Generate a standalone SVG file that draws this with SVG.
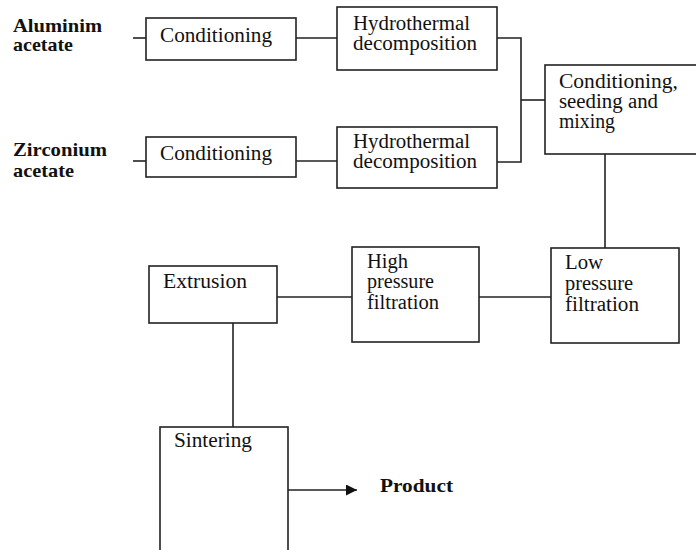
<svg xmlns="http://www.w3.org/2000/svg" width="696" height="550" viewBox="0 0 696 550">
<defs>
<style>
.box{fill:#fff;stroke:#222;stroke-width:1.6}
.t{font-family:"Liberation Serif","Times New Roman",serif;font-size:20px;fill:#111}
.b{font-family:"Liberation Serif","Times New Roman",serif;font-size:19px;font-weight:bold;fill:#111}
.c{fill:none;stroke:#222;stroke-width:1.6}
</style>
<marker id="arr" viewBox="0 0 10 10" refX="10" refY="5" markerWidth="12" markerHeight="11" markerUnits="userSpaceOnUse" orient="auto"><path d="M0,0 L10,5 L0,10 z" fill="#111"/></marker>
</defs>
<rect width="696" height="550" fill="#fff"/>
<g id="labels">
<text class="b" x="13" y="32" textLength="89" lengthAdjust="spacingAndGlyphs">Aluminim</text>
<text class="b" x="13" y="51" textLength="60" lengthAdjust="spacingAndGlyphs">acetate</text>
<text class="b" x="13" y="156" textLength="94" lengthAdjust="spacingAndGlyphs">Zirconium</text>
<text class="b" x="13" y="177" textLength="61" lengthAdjust="spacingAndGlyphs">acetate</text>
<text class="b" x="380" y="492" textLength="73" lengthAdjust="spacingAndGlyphs">Product</text>
</g>
<g id="connectors">
<path class="c" d="M133,38 H147"/>
<path class="c" d="M296,38 H337"/>
<path class="c" d="M133,161 H147"/>
<path class="c" d="M296,161 H337"/>
<path class="c" d="M497,38 H521 V162 H497"/>
<path class="c" d="M521,100 H545"/>
<path class="c" d="M605,154 V248"/>
<path class="c" d="M479,297 H551"/>
<path class="c" d="M277,297 H352"/>
<path class="c" d="M233,323 V427"/>
<path class="c" d="M288,490 H357" marker-end="url(#arr)"/>
</g>
<g id="cond1"><rect class="box" x="146" y="18" width="150" height="42"/><text class="t" x="160" y="42" textLength="112" lengthAdjust="spacingAndGlyphs">Conditioning</text></g>
<g id="cond2"><rect class="box" x="146" y="137" width="150" height="40"/><text class="t" x="160" y="160" textLength="112" lengthAdjust="spacingAndGlyphs">Conditioning</text></g>
<g id="hydro1"><rect class="box" x="337" y="7" width="160" height="63"/><text class="t" x="353" y="30" textLength="117" lengthAdjust="spacingAndGlyphs">Hydrothermal</text><text class="t" x="353" y="50" textLength="124" lengthAdjust="spacingAndGlyphs">decomposition</text></g>
<g id="hydro2"><rect class="box" x="337" y="127" width="160" height="61"/><text class="t" x="353" y="148" textLength="117" lengthAdjust="spacingAndGlyphs">Hydrothermal</text><text class="t" x="353" y="168" textLength="124" lengthAdjust="spacingAndGlyphs">decomposition</text></g>
<g id="mix"><rect class="box" x="545" y="65" width="160" height="89"/><text class="t" x="559" y="88" textLength="119" lengthAdjust="spacingAndGlyphs">Conditioning,</text><text class="t" x="559" y="108" textLength="99" lengthAdjust="spacingAndGlyphs">seeding and</text><text class="t" x="559" y="128" textLength="56" lengthAdjust="spacingAndGlyphs">mixing</text></g>
<g id="lowp"><rect class="box" x="551" y="248" width="128" height="95"/><text class="t" x="565" y="269" textLength="38" lengthAdjust="spacingAndGlyphs">Low</text><text class="t" x="565" y="290" textLength="68" lengthAdjust="spacingAndGlyphs">pressure</text><text class="t" x="565" y="311" textLength="74" lengthAdjust="spacingAndGlyphs">filtration</text></g>
<g id="highp"><rect class="box" x="352" y="247" width="127" height="95"/><text class="t" x="367" y="268" textLength="41" lengthAdjust="spacingAndGlyphs">High</text><text class="t" x="367" y="288" textLength="67" lengthAdjust="spacingAndGlyphs">pressure</text><text class="t" x="367" y="309" textLength="72" lengthAdjust="spacingAndGlyphs">filtration</text></g>
<g id="extrusion"><rect class="box" x="149" y="266" width="128" height="57"/><text class="t" x="163" y="288" textLength="84" lengthAdjust="spacingAndGlyphs">Extrusion</text></g>
<g id="sintering"><rect class="box" x="160" y="427" width="128" height="140"/><text class="t" x="174" y="447" textLength="78" lengthAdjust="spacingAndGlyphs">Sintering</text></g>
</svg>
